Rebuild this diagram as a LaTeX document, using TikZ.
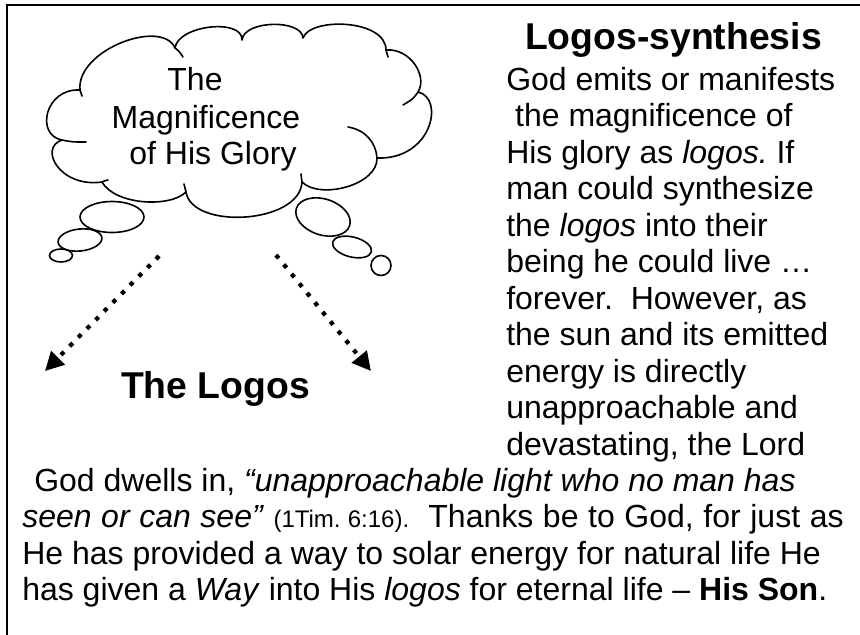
\documentclass[tikz,border=0pt]{standalone}
\usepackage{fontspec}
\setmainfont{Liberation Sans}
\usetikzlibrary{arrows.meta}
\frenchspacing
\begin{document}
\begin{tikzpicture}[x=0.75pt,y=-0.75pt,
  txt/.style={inner sep=0pt, anchor=base west, font=\fontsize{24}{27}\selectfont},
  ctxt/.style={inner sep=0pt, anchor=base, font=\fontsize{24}{27}\selectfont},
  head/.style={inner sep=0pt, anchor=base, font=\fontsize{28}{32}\selectfont\bfseries},
  frame/.style={line width=1.5pt},
  cloudline/.style={line width=1.2pt, line join=round, line cap=round},
  bubble/.style={line width=1.2pt},
  dotarrow/.style={line width=3.2pt, dash pattern=on 3.2pt off 6pt, -{Triangle[length=14pt,width=14pt]}}
]
\useasboundingbox (0,0) rectangle (860,635);
% frame (top and left edges only)
\draw[frame] (7,636) -- (7,5) -- (861,5);

% cloud outline
\draw[cloudline] (80,90)
 .. controls (76,50) and (162,18) .. (175,48)
 .. controls (178,25) and (243,18) .. (242,40)
 .. controls (244,20) and (302,19) .. (303,38)
 .. controls (310,17) and (386,19) .. (386,50)
 .. controls (410,48) and (428,76) .. (418,92)
 .. controls (445,98) and (432,160) .. (377,158)
 .. controls (378,185) and (320,200) .. (302,182)
 .. controls (300,224) and (192,230) .. (186,192)
 .. controls (170,208) and (115,205) .. (102,182)
 .. controls (60,188) and (38,148) .. (62,140)
 .. controls (35,135) and (45,88) .. (80,90) -- cycle;
% inner hooks of the cloud
\draw[cloudline] (80,90) .. controls (81,93) .. (82,96);
\draw[cloudline] (175,48) .. controls (179,51) .. (183,57);
\draw[cloudline] (386,50) .. controls (387,53) .. (388,57);
\draw[cloudline] (418,92) .. controls (413,99) .. (403,105);
\draw[cloudline] (348,127) .. controls (366,130) and (376,143) .. (377,158);
\draw[cloudline] (302,182) .. controls (301,178) .. (301,174);
\draw[cloudline] (186,192) .. controls (185,188) .. (184,184);
\draw[cloudline] (102,182) .. controls (104,181) .. (108,180);
\draw[cloudline] (62,140) .. controls (72,142) .. (86,142);

% thought bubbles
\draw[bubble] (112,217) ellipse [x radius=32, y radius=15.5];
\draw[bubble, rotate around={6:(80,240)}] (80,240) ellipse [x radius=22, y radius=11];
\draw[bubble] (61,255.5) ellipse [x radius=11.5, y radius=6.5];
\draw[bubble, rotate around={-18:(323,217)}] (323,217) ellipse [x radius=28, y radius=18];
\draw[bubble, rotate around={-14:(352,247)}] (352,247) ellipse [x radius=20, y radius=10];
\draw[bubble] (381,265.5) circle [radius=10];

% cloud text
\node[ctxt] (t1) at (195,90) {The};
\node[ctxt] (t2) at (206,128) {Magnificence};
\node[ctxt] (t3) at (213,164) {of His Glory};

% arrows
\coordinate (la1) at (159,256);
\coordinate (la2) at (45,371);
\coordinate (ra1) at (276,255);
\coordinate (ra2) at (371,371);
\draw[dotarrow] (la1) -- (la2);
\draw[dotarrow] (ra1) -- (ra2);

\node[head] (logos) at (215.5,398) {The Logos};
\node[head] (title) at (673.5,50) {Logos-synthesis};

% right column
\node[txt] (r1) at (506,90) {God emits or manifests};
\node[txt] (r2) at (506,126.5) {\ the magnificence of};
\node[txt] (r3) at (506,163) {His glory as \textit{logos.} If};
\node[txt] (r4) at (506,199.5) {man could synthesize};
\node[txt] (r5) at (506,236) {the \textit{logos} into their};
\node[txt] (r6) at (506,272.5) {being he could live …};
\node[txt] (r7) at (506,309) {forever.\ \ However, as};
\node[txt] (r8) at (506,345.5) {the sun and its emitted};
\node[txt] (r9) at (506,382) {energy is directly};
\node[txt] (r10) at (506,418.5) {unapproachable and};
\node[txt] (r11) at (506,455) {devastating, the Lord};

% bottom text
\node[txt] (b1) at (34,491) {God dwells in, \textit{“unapproachable light who no man has}};
\node[txt] (b2) at (22,527.5) {\makebox[616pt][s]{\textit{seen or can see”} {\fontsize{18}{20}\selectfont(1Tim. 6:16).}\ \ Thanks be to God, for just as}};
\node[txt] (b3) at (22,564) {He has provided a way to solar energy for natural life He};
\node[txt] (b4) at (22,600.5) {has given a \textit{Way} into His \textit{logos} for eternal life – \textbf{His Son}.};
\end{tikzpicture}
\end{document}
